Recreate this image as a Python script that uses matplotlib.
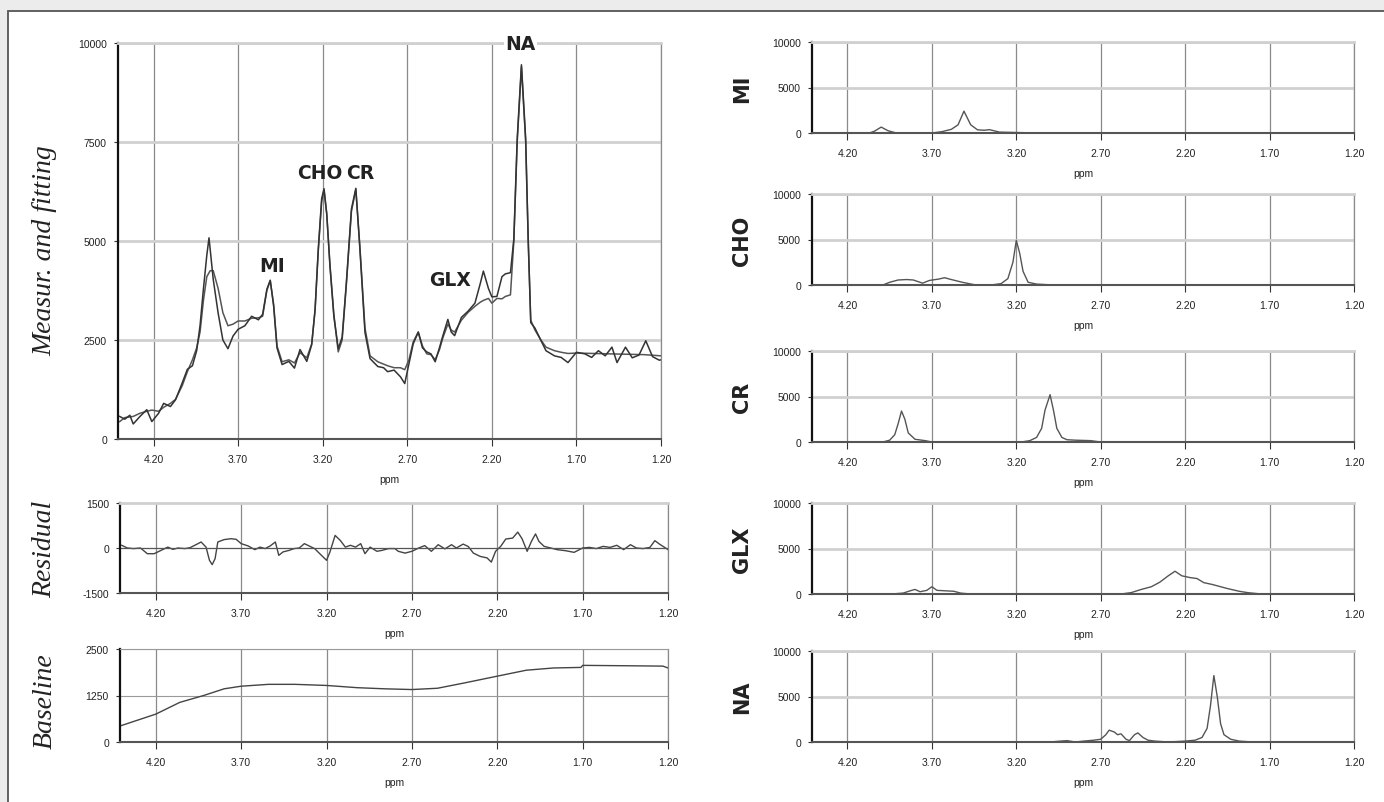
"""MRS spectrum fit: measured vs fitted, residual, baseline and metabolite components."""

import matplotlib
matplotlib.use('Agg')
import matplotlib.pyplot as plt
from matplotlib.patches import Rectangle
import numpy as np

nan = np.nan
W, H = 1384, 803
TICK_FONT = ['Liberation Sans', 'DejaVu Sans']

XTICKS = [4.20, 3.70, 3.20, 2.70, 2.20, 1.70, 1.20]
XLIM = (4.41, 1.20)

# measured spectrum
meas_ppm = [4.40, 4.37, 4.34, 4.32, 4.28, 4.24, 4.21, 4.17, 4.14, 4.10, 4.07, 4.03, 4.00,
            3.97, 3.945, 3.925, 3.905, 3.885, 3.872, 3.847, 3.818, 3.79, 3.76, 3.73, 3.70,
            3.66, 3.62, 3.58, 3.555, 3.53, 3.51, 3.49, 3.47, 3.44, 3.40, 3.367, 3.334, 3.294,
            3.265, 3.245, 3.226, 3.206, 3.192, 3.176, 3.157, 3.134, 3.108, 3.085, 3.06, 3.03,
            3.004, 2.98, 2.95, 2.92, 2.874, 2.84, 2.816, 2.778, 2.74, 2.715, 2.69, 2.665,
            2.635, 2.61, 2.585, 2.56, 2.535, 2.51, 2.49, 2.46, 2.44, 2.42, 2.38, 2.34, 2.30,
            2.27, 2.25, 2.22, 2.20, 2.17, 2.14, 2.12, 2.09, 2.07, 2.05, 2.025, 2.00, 1.985,
            1.97, 1.945, 1.91, 1.88, 1.83, 1.79, 1.75, 1.70, 1.65, 1.61, 1.57, 1.53, 1.49,
            1.46, 1.41, 1.37, 1.33, 1.29, 1.25, 1.21, 1.20]
meas_val = [570, 500, 600, 380, 570, 740, 440, 650, 900, 820, 990, 1420, 1760,
            1850, 2230, 2860, 3790, 4640, 5080, 4030, 3180, 2500, 2280, 2600, 2770,
            2860, 3100, 3010, 3150, 3780, 4010, 3360, 2300, 1880, 1960, 1790, 2260, 1960,
            2380, 3270, 4800, 6070, 6320, 5670, 4370, 3100, 2280, 2570, 3950, 5810,
            6330, 4800, 2690, 2030, 1830, 1800, 1700, 1740, 1570, 1400, 1900, 2400,
            2700, 2300, 2200, 2150, 1950, 2300, 2600, 3020, 2700, 2610, 3070, 3230, 3430,
            3900, 4240, 3800, 3590, 3600, 4100, 4170, 4200, 5050, 7590, 9450, 7590, 5050,
            2940, 2800, 2490, 2230, 2100, 2060, 1930, 2190, 2150, 2060, 2230, 2100, 2320,
            1930, 2320, 2050, 2120, 2480, 2080, 1990, 2000]

# fitted spectrum
fit_ppm = [4.40, 4.37, 4.32, 4.28, 4.24, 4.21, 4.17, 4.14, 4.10, 4.07, 4.03, 4.00, 3.97,
           3.945, 3.925, 3.905, 3.885, 3.865, 3.847, 3.818, 3.79, 3.76, 3.73, 3.70, 3.66,
           3.62, 3.58, 3.555, 3.53, 3.51, 3.49, 3.47, 3.44, 3.40, 3.367, 3.334, 3.294,
           3.265, 3.245, 3.226, 3.206, 3.192, 3.176, 3.157, 3.134, 3.108, 3.085, 3.06, 3.03,
           3.004, 2.98, 2.95, 2.92, 2.874, 2.816, 2.778, 2.74, 2.715, 2.69, 2.665, 2.635,
           2.61, 2.585, 2.56, 2.535, 2.51, 2.49, 2.46, 2.44, 2.42, 2.38, 2.34, 2.30, 2.27,
           2.25, 2.22, 2.20, 2.17, 2.14, 2.12, 2.09, 2.07, 2.05, 2.025, 2.00, 1.985, 1.97,
           1.945, 1.91, 1.88, 1.83, 1.79, 1.75, 1.70, 1.60, 1.50, 1.40, 1.30, 1.20]
fit_val = [440, 540, 570, 650, 700, 730, 700, 800, 900, 1000, 1350, 1700, 2000,
           2300, 2700, 3500, 4100, 4250, 4250, 3800, 3190, 2860, 2900, 2980, 2980,
           3050, 3060, 3100, 3750, 4000, 3400, 2350, 1950, 2000, 1920, 2180, 2050,
           2400, 3250, 4750, 6000, 6280, 5700, 4400, 3150, 2200, 2500, 3900, 5750,
           6300, 4850, 2800, 2100, 1950, 1850, 1800, 1800, 1750, 2000, 2450, 2700,
           2350, 2150, 2130, 2000, 2250, 2550, 2900, 2750, 2700, 3000, 3200, 3350, 3450,
           3500, 3550, 3430, 3550, 3540, 3600, 3640, 5000, 7500, 9400, 7500, 5000, 3000,
           2750, 2500, 2320, 2230, 2190, 2160, 2170, 2160, 2150, 2140, 2130, 2100]

# residual
res_ppm = [4.40, 4.367, 4.33, 4.29, 4.25, 4.21, 4.17, 4.13, 4.10, 4.07, 4.03, 4.00, 3.965,
           3.935, 3.906, 3.886, 3.87, 3.853, 3.837, 3.80, 3.76, 3.73, 3.70, 3.66, 3.62,
           3.59, 3.56, 3.53, 3.50, 3.48, 3.455, 3.42, 3.39, 3.36, 3.33, 3.31, 3.27, 3.23,
           3.20, 3.18, 3.15, 3.12, 3.09, 3.06, 3.03, 3.00, 2.975, 2.945, 2.905, 2.876,
           2.837, 2.80, 2.78, 2.74, 2.70, 2.66, 2.625, 2.586, 2.546, 2.507, 2.468, 2.44,
           2.40, 2.37, 2.34, 2.30, 2.26, 2.235, 2.21, 2.18, 2.15, 2.11, 2.08, 2.055, 2.025,
           2.00, 1.976, 1.956, 1.926, 1.887, 1.85, 1.80, 1.75, 1.70, 1.66, 1.62, 1.58, 1.54,
           1.50, 1.46, 1.42, 1.385, 1.346, 1.306, 1.277, 1.25, 1.22, 1.20]
res_val = [90, 0, -20, 0, -190, -190, -80, 30, -45, 0, -20, 10, 110,
           200, 30, -410, -555, -355, 200, 280, 310, 290, 145, 70, -55,
           30, -20, 70, 200, -245, -130, -80, -20, 0, 145, 90, -20, -245,
           -410, -130, 420, 255, 30, 90, 30, 145, -190, 30, -110, -80,
           -20, -20, -110, -170, -110, 0, 80, -110, 110, -30, 110, 0,
           130, 50, -170, -280, -330, -470, -110, 55, 300, 330, 530, 310, -110,
           220, 470, 220, 55, 0, -55, -90, -145, 0, 20, -20, 55, 20,
           90, -55, 110, 0, -20, 20, 245, 130, 20, -55]

# baseline
base_ppm = [4.41, 4.20, 4.06, 3.92, 3.80, 3.70, 3.54, 3.385, 3.20, 3.02, 2.86, 2.70, 2.55,
            2.39, 2.20, 2.03, 1.87, 1.71, 1.70, 1.45, 1.23, 1.20]
base_val = [430, 750, 1065, 1250, 1430, 1500, 1550, 1550, 1520, 1460, 1430, 1410, 1445,
            1590, 1770, 1930, 1990, 2005, 2060, 2050, 2040, 1990]

# metabolite components (nan = gap in the trace)
mi_ppm = [4.07, 4.04, 4.00, 3.96, 3.91, nan, 3.78, 3.70, 3.64, 3.585, 3.545, 3.51, 3.47,
          3.43, 3.39, 3.36, 3.30, 3.19, 3.06]
mi_val = [0, 200, 650, 250, 0, nan, 0, 0, 150, 400, 900, 2400, 900,
          350, 300, 370, 100, 50, 0]

cho_ppm = [4.30, 4.11, nan, 3.99, 3.95, 3.90, 3.85, 3.81, 3.755, 3.715, 3.66, 3.625, 3.585,
           3.52, 3.44, nan, 3.35, 3.29, 3.25, 3.22, 3.20, 3.18, 3.16, 3.13, 3.08, 2.98,
           nan, 2.92, 2.88]
cho_val = [0, 0, nan, 0, 300, 550, 600, 550, 200, 500, 650, 800, 600,
           300, 0, nan, 0, 150, 700, 2500, 4900, 3500, 1500, 300, 100, 0,
           nan, 0, 0]

cr_ppm = [3.99, 3.95, 3.92, 3.90, 3.88, 3.86, 3.84, 3.80, 3.74, 3.70, 3.62, nan, 3.17,
          3.12, 3.08, 3.05, 3.03, 3.00, 2.98, 2.96, 2.93, 2.90, 2.85, 2.76, 2.70, 1.20]
cr_val = [0, 200, 800, 2000, 3400, 2500, 1000, 300, 150, 0, 0, nan, 0,
          150, 500, 1500, 3500, 5200, 3500, 1500, 500, 250, 200, 150, 0, 0]

glx_ppm = [4.41, 4.29, nan, 3.94, 3.87, 3.82, 3.80, 3.77, 3.73, 3.70, 3.67, 3.62, 3.57,
           3.53, 3.47, nan, 2.58, 2.52, 2.46, 2.40, 2.35, 2.30, 2.26, 2.22, 2.17, 2.13,
           2.09, 2.04, 2.00, 1.95, 1.88, 1.83, 1.75, 1.20]
glx_val = [0, 0, nan, 0, 100, 400, 500, 250, 400, 800, 400, 350, 300,
           100, 0, nan, 0, 150, 500, 800, 1300, 2000, 2500, 2000, 1800, 1700,
           1250, 1050, 850, 600, 300, 150, 0, 0]

na_ppm = [4.41, 4.11, nan, 3.75, 3.65, nan, 3.27, 3.00, 2.95, 2.90, 2.85, 2.80, 2.74, 2.70,
          2.67, 2.65, 2.62, 2.60, 2.58, 2.55, 2.53, 2.50, 2.48, 2.45, 2.42, 2.38, 2.30,
          2.20, 2.14, 2.10, 2.07, 2.05, 2.03, 2.01, 1.99, 1.97, 1.93, 1.88, 1.80, 1.61]
na_val = [0, 0, nan, 0, 0, nan, 0, 0, 80, 150, 0, 100, 200, 300,
          800, 1300, 1100, 800, 900, 300, 150, 800, 1000, 500, 200, 100, 0,
          100, 200, 500, 1500, 4000, 7300, 5000, 2000, 800, 300, 100, 0, 0]

components = [('MI', mi_ppm, mi_val), ('CHO', cho_ppm, cho_val), ('CR', cr_ppm, cr_val),
              ('GLX', glx_ppm, glx_val), ('NA', na_ppm, na_val)]


def box(l, t, r, b):
    return [l / W, 1 - b / H, (r - l) / W, (b - t) / H]


def style(ax, ylim, yticks, ylabels, hgrid='light'):
    ax.set_xlim(*XLIM)
    ax.set_xticks(XTICKS)
    ax.set_xticklabels([f'{v:.2f}' for v in XTICKS])
    ax.set_ylim(*ylim)
    ax.set_yticks(yticks)
    ax.set_yticklabels(ylabels)
    ax.grid(axis='x', color='#8a8a8a', lw=0.9)
    if hgrid == 'light':
        ax.grid(axis='y', color='#d0d0d0', lw=2.0)
    elif hgrid == 'thin':
        ax.grid(axis='y', color='#9a9a9a', lw=0.8)
    ax.set_axisbelow(True)
    ax.spines['left'].set(color='#111111', lw=1.6)
    ax.spines['bottom'].set(color='#555555', lw=1.5)
    ax.spines['top'].set(color='#d0d0d0', lw=2.0)
    ax.spines['right'].set(color='#8a8a8a', lw=0.9)
    ax.tick_params(axis='x', labelsize=7.5, length=5, width=0.8, color='#333333', pad=6)
    ax.tick_params(axis='y', labelsize=7.5, length=3, width=0.8, color='#333333', pad=5)
    for lab in ax.get_xticklabels() + ax.get_yticklabels():
        lab.set_family(TICK_FONT)
        lab.set_color('#222222')
    ax.set_xlabel('ppm', fontsize=7.5, family=TICK_FONT, labelpad=7, color='#222222')


def left_label(ax_rect, text, dy=0):
    l, b, w, h = ax_rect
    fig.text(45 / W, b + h / 2 - dy / H, text, rotation=90, ha='center', va='center',
             family=['Liberation Serif', 'DejaVu Serif'], style='italic', fontsize=20,
             color='#222222')


def right_label(ax_rect, text):
    l, b, w, h = ax_rect
    fig.text(742 / W, b + h / 2, text, rotation=90, ha='center', va='center',
             family='DejaVu Sans', weight='bold', fontsize=15, color='#222222')


fig = plt.figure(figsize=(W / 100, H / 100), dpi=100)
fig.patch.set_facecolor('#ececec')
fig.patches.append(Rectangle((8 / W, -0.05), 1.1, 1 - 12 / H + 0.05, transform=fig.transFigure,
                             facecolor='white', edgecolor='#555555', lw=1.3, zorder=-10))

# main panel
r_main = box(118, 44, 661, 440)
ax = fig.add_axes(r_main)
ax.plot(fit_ppm, fit_val, color='#555555', lw=1.1)
ax.plot(meas_ppm, meas_val, color='#333333', lw=1.1)
style(ax, (0, 10000), [0, 2500, 5000, 7500, 10000], ['0', '2500', '5000', '7500', '10000'])
left_label(r_main, 'Measur. and fitting', dy=9)
bold = dict(family='DejaVu Sans', weight='bold', fontsize=13.5, color='#222222',
            ha='center', va='center')
ax.text(2.03, 10000, 'NA', bbox=dict(facecolor='white', edgecolor='none', pad=1), **bold)
ax.text(3.216, 6740, 'CHO', **bold)
ax.text(2.98, 6740, 'CR', **bold)
ax.text(3.50, 4370, 'MI', **bold)
ax.text(2.445, 4020, 'GLX', **bold)

# residual
r_res = box(120, 504, 668, 594)
ax = fig.add_axes(r_res)
ax.plot(res_ppm, res_val, color='#444444', lw=1.0)
ax.axhline(0, color='#555555', lw=0.9)
style(ax, (-1500, 1500), [-1500, 0, 1500], ['-1500', '0', '1500'], hgrid=None)
left_label(r_res, 'Residual')

# baseline
r_base = box(120, 650, 668, 743)
ax = fig.add_axes(r_base)
ax.plot(base_ppm, base_val, color='#444444', lw=1.0)
style(ax, (0, 2500), [0, 1250, 2500], ['0', '1250', '2500'], hgrid='thin')
ax.spines['top'].set(color='#9a9a9a', lw=0.8)
left_label(r_base, 'Baseline', dy=5)

# component panels
tops = [43, 195, 352, 504, 652]
for (name, xs, ys), t in zip(components, tops):
    r = box(812, t, 1354, t + 91)
    ax = fig.add_axes(r)
    ax.plot(xs, ys, color='#555555', lw=1.0)
    style(ax, (0, 10000), [0, 5000, 10000], ['0', '5000', '10000'])
    right_label(r, name)

fig.savefig('out.png', dpi=100, facecolor=fig.get_facecolor())
